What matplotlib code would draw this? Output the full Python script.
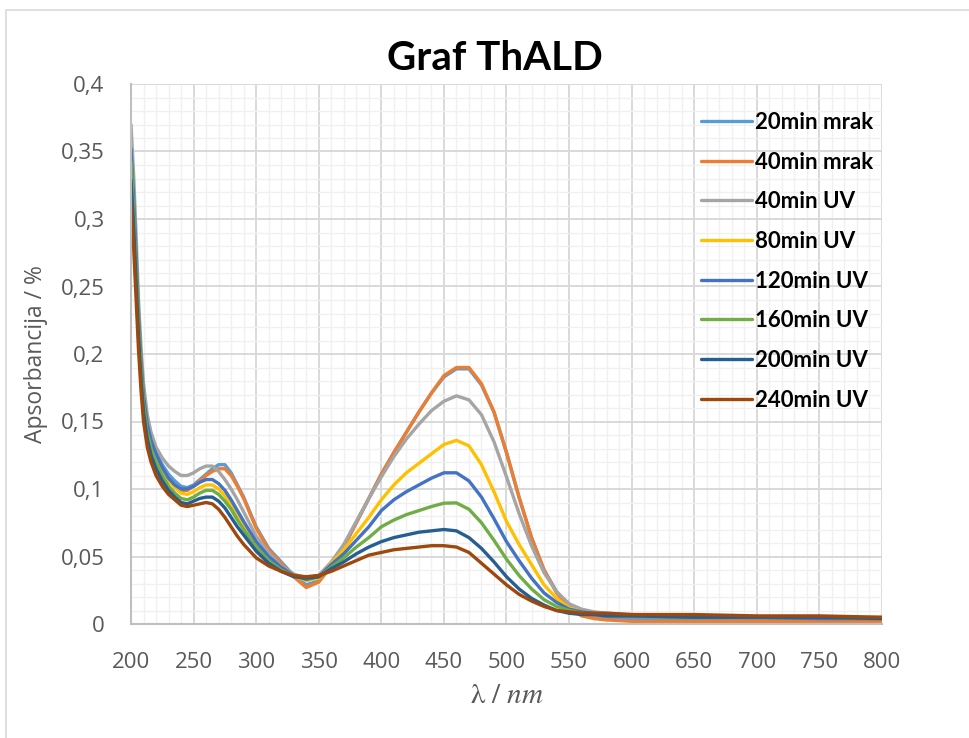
import matplotlib
matplotlib.use("Agg")
import matplotlib.pyplot as plt
from matplotlib.patches import Rectangle
from matplotlib.ticker import MultipleLocator, FuncFormatter

# wavelength grid (nm) shared by all series
wavelength = [200, 202, 204, 206, 208, 210, 213, 216, 220, 225, 230, 235, 240, 245,
              250, 255, 260, 265, 270, 275, 280, 285, 290, 300, 310, 320, 330, 340,
              350, 360, 370, 380, 390, 400, 410, 420, 430, 440, 450, 460, 470, 480,
              490, 500, 510, 520, 530, 540, 550, 560, 570, 580, 600, 650, 700, 750, 800]

a_20min_mrak = [0.350, 0.318, 0.276, 0.231, 0.197, 0.171, 0.149, 0.137, 0.127, 0.118, 0.111, 0.106, 0.102, 0.101,
                0.103, 0.107, 0.111, 0.115, 0.118, 0.118, 0.112, 0.103, 0.094, 0.072, 0.056, 0.046, 0.036, 0.029,
                0.032, 0.043, 0.057, 0.075, 0.093, 0.111, 0.127, 0.142, 0.157, 0.171, 0.183, 0.189, 0.189, 0.177,
                0.157, 0.127, 0.094, 0.064, 0.040, 0.024, 0.013, 0.008, 0.006, 0.005, 0.004, 0.004, 0.004, 0.004, 0.003]
a_40min_mrak = [0.335, 0.300, 0.258, 0.216, 0.184, 0.160, 0.140, 0.129, 0.120, 0.112, 0.106, 0.102, 0.099, 0.099,
                0.102, 0.106, 0.110, 0.113, 0.115, 0.115, 0.110, 0.102, 0.093, 0.071, 0.055, 0.045, 0.035, 0.027,
                0.031, 0.043, 0.057, 0.075, 0.093, 0.111, 0.127, 0.142, 0.157, 0.171, 0.184, 0.190, 0.190, 0.178,
                0.157, 0.127, 0.094, 0.064, 0.040, 0.023, 0.012, 0.006, 0.004, 0.003, 0.002, 0.002, 0.002, 0.002, 0.002]
a_40min_uv = [0.370, 0.335, 0.290, 0.240, 0.205, 0.178, 0.155, 0.142, 0.131, 0.123, 0.117, 0.113, 0.110, 0.110,
              0.112, 0.115, 0.117, 0.117, 0.113, 0.107, 0.100, 0.092, 0.083, 0.065, 0.053, 0.043, 0.037, 0.034,
              0.036, 0.046, 0.059, 0.076, 0.093, 0.109, 0.124, 0.137, 0.148, 0.158, 0.165, 0.169, 0.166, 0.155,
              0.135, 0.109, 0.082, 0.058, 0.038, 0.024, 0.015, 0.011, 0.009, 0.008, 0.007, 0.006, 0.005, 0.005, 0.004]
a_80min_uv = [0.345, 0.312, 0.270, 0.226, 0.193, 0.167, 0.146, 0.134, 0.124, 0.114, 0.106, 0.101, 0.097, 0.096,
              0.098, 0.101, 0.103, 0.103, 0.100, 0.095, 0.088, 0.080, 0.072, 0.058, 0.048, 0.041, 0.036, 0.032,
              0.034, 0.045, 0.055, 0.067, 0.079, 0.092, 0.103, 0.112, 0.119, 0.126, 0.133, 0.136, 0.132, 0.118,
              0.098, 0.076, 0.059, 0.044, 0.029, 0.019, 0.012, 0.009, 0.008, 0.007, 0.006, 0.005, 0.005, 0.005, 0.005]
a_120min_uv = [0.352, 0.318, 0.275, 0.229, 0.195, 0.169, 0.148, 0.136, 0.126, 0.116, 0.108, 0.103, 0.100, 0.100,
               0.102, 0.105, 0.107, 0.107, 0.104, 0.099, 0.092, 0.084, 0.076, 0.061, 0.050, 0.042, 0.036, 0.033,
               0.035, 0.044, 0.052, 0.062, 0.072, 0.084, 0.092, 0.098, 0.103, 0.108, 0.112, 0.112, 0.106, 0.094,
               0.078, 0.061, 0.047, 0.034, 0.023, 0.016, 0.011, 0.009, 0.008, 0.007, 0.006, 0.005, 0.005, 0.004, 0.004]
a_160min_uv = [0.342, 0.308, 0.266, 0.222, 0.189, 0.163, 0.142, 0.130, 0.120, 0.110, 0.102, 0.097, 0.093, 0.092,
               0.094, 0.097, 0.099, 0.099, 0.096, 0.091, 0.085, 0.077, 0.070, 0.057, 0.047, 0.040, 0.036, 0.034,
               0.035, 0.042, 0.049, 0.057, 0.064, 0.072, 0.077, 0.081, 0.084, 0.087, 0.0895, 0.0897, 0.085, 0.075,
               0.062, 0.048, 0.036, 0.026, 0.018, 0.013, 0.010, 0.008, 0.007, 0.007, 0.006, 0.005, 0.005, 0.005, 0.004]
a_200min_uv = [0.329, 0.296, 0.255, 0.213, 0.181, 0.157, 0.137, 0.125, 0.115, 0.106, 0.099, 0.094, 0.090, 0.089,
               0.091, 0.093, 0.094, 0.094, 0.091, 0.086, 0.079, 0.072, 0.066, 0.054, 0.045, 0.039, 0.035, 0.034,
               0.035, 0.041, 0.046, 0.052, 0.057, 0.061, 0.064, 0.066, 0.068, 0.069, 0.070, 0.069, 0.064, 0.056,
               0.046, 0.035, 0.026, 0.019, 0.014, 0.010, 0.008, 0.007, 0.007, 0.006, 0.006, 0.005, 0.005, 0.005, 0.004]
a_240min_uv = [0.312, 0.281, 0.242, 0.203, 0.173, 0.150, 0.131, 0.120, 0.110, 0.102, 0.096, 0.092, 0.088, 0.087,
               0.088, 0.089, 0.090, 0.089, 0.085, 0.079, 0.072, 0.065, 0.059, 0.049, 0.043, 0.039, 0.036, 0.035,
               0.036, 0.039, 0.043, 0.047, 0.051, 0.053, 0.055, 0.056, 0.057, 0.058, 0.058, 0.057, 0.053, 0.045,
               0.037, 0.029, 0.022, 0.017, 0.013, 0.010, 0.009, 0.008, 0.008, 0.008, 0.007, 0.007, 0.006, 0.006, 0.005]

labels = ["20min mrak", "40min mrak", "40min UV", "80min UV",
          "120min UV", "160min UV", "200min UV", "240min UV"]
series = [a_20min_mrak, a_40min_mrak, a_40min_uv, a_80min_uv,
          a_120min_uv, a_160min_uv, a_200min_uv, a_240min_uv]
colors = ["#5B9BD5", "#ED7D31", "#A5A5A5", "#FFC000",
          "#4472C4", "#70AD47", "#255E91", "#9E480E"]

plt.rcParams["font.family"] = ["Open Sans", "DejaVu Sans"]
plt.rcParams["mathtext.fontset"] = "stix"

fig = plt.figure(figsize=(9.7, 7.38), dpi=100)
ax = fig.add_axes([131 / 970, 1 - 624 / 738, 751 / 970, 540 / 738])

# outer chart border
fig.patches.append(Rectangle((6 / 970, -0.05), 1.1, 1.05 - 10 / 738,
                             transform=fig.transFigure, fill=False,
                             edgecolor="#D9D9D9", linewidth=1.2))

for ys, label, color in zip(series, labels, colors):
    ax.plot(wavelength, ys, color=color, linewidth=2.4, label=label,
            solid_capstyle="round", solid_joinstyle="round")

ax.set_xlim(200, 800)
ax.set_ylim(0, 0.4)
ax.xaxis.set_major_locator(MultipleLocator(50))
ax.xaxis.set_minor_locator(MultipleLocator(10))
ax.yaxis.set_major_locator(MultipleLocator(0.05))
ax.yaxis.set_minor_locator(MultipleLocator(0.01))
ax.yaxis.set_major_formatter(FuncFormatter(lambda v, p: f"{v:.2f}".rstrip("0").rstrip(".").replace(".", ",")))

ax.grid(which="minor", color="#F0F0F0", linewidth=1.0)
ax.grid(which="major", color="#D9D9D9", linewidth=1.4)
ax.set_axisbelow(True)
for side in ["top", "right"]:
    ax.spines[side].set_visible(False)
for side in ["left", "bottom"]:
    ax.spines[side].set_color("#BFBFBF")
    ax.spines[side].set_linewidth(1.5)

ax.tick_params(which="both", length=0, labelsize=16, labelcolor="#595959")
ax.tick_params(axis="x", pad=20)
ax.tick_params(axis="y", pad=19)

ax.set_ylabel("Apsorbancija / %", fontsize=16.5, color="#595959", labelpad=9)
ax.set_xlabel(r"$\mathrm{\lambda\ /}\ \mathit{nm}$", fontsize=21, color="#595959", labelpad=6)

fig.text(495 / 970, 1 - 58 / 738, "Graf ThALD", fontsize=29, fontweight="bold",
         ha="center", va="center", family=["Lato", "DejaVu Sans"])

ax.legend(loc="upper left", bbox_to_anchor=(692 / 970, 1 - 103 / 738),
          bbox_transform=fig.transFigure, frameon=False,
          prop={"family": ["Lato", "DejaVu Sans"], "weight": "bold", "size": 16},
          handlelength=2.3, handletextpad=0.15, labelspacing=0.84, borderaxespad=0)

fig.savefig("out.png", dpi=100)
